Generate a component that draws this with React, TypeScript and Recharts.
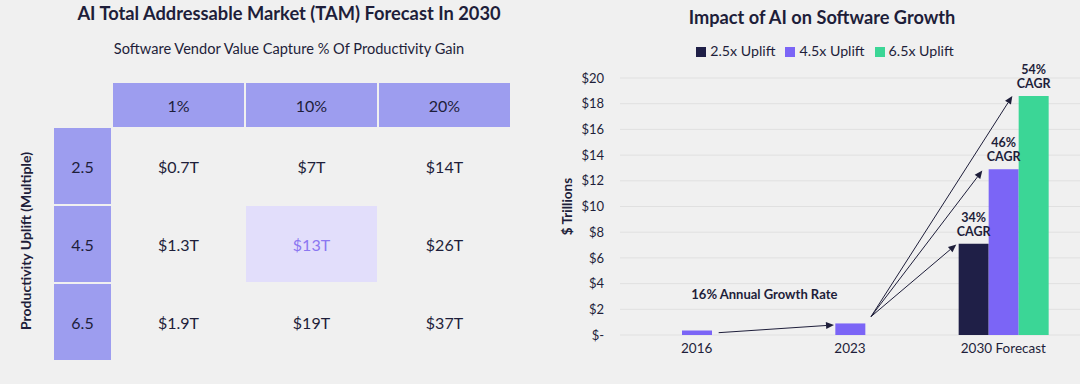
import React from "react";
import {
  Bar,
  BarChart,
  CartesianGrid,
  LabelList,
  Legend,
  ReferenceLine,
  XAxis,
  YAxis
} from "recharts";

const FONT = "Lato, 'Open Sans', sans-serif";
const INK = "#1e1e3a";
const PAGE_BG = "#f0f0f0";
const HEADER_BG = "#9d9def";
const HIGHLIGHT_BG = "#e2defb";
const HIGHLIGHT_INK = "#8b77f1";

// left table
const captureHeaders = ["1%", "10%", "20%"];
const upliftMultiples = ["2.5", "4.5", "6.5"];
const tamRows = [
  ["$0.7T", "$7T", "$14T"],
  ["$1.3T", "$13T", "$26T"],
  ["$1.9T", "$19T", "$37T"]
];
const highlighted = { row: 1, col: 1 };

// right chart
const years = ["2016", "2023", "2030 Forecast"];
const uplift25 = [null, null, 7.1];
const uplift45 = [0.35, 0.9, 12.9];
const uplift65 = [null, null, 18.6];
const cagr25 = [null, null, "34%"];
const cagr45 = [null, null, "46%"];
const cagr65 = [null, null, "54%"];
const yTicks = [0, 2, 4, 6, 8, 10, 12, 14, 16, 18, 20];

// connectors: y in $T, dx = pixel nudge from the category centre
const arrows = [
  { from: "2016", fromY: 0.18, fromDx: 22, to: "2023", toY: 0.78, toDx: -16, note: "16% Annual Growth Rate" },
  { from: "2023", fromY: 1.43, fromDx: 21, to: "2030 Forecast", toY: 7.05, toDx: -47 },
  { from: "2023", fromY: 1.43, fromDx: 21, to: "2030 Forecast", toY: 12.8, toDx: -21 },
  { from: "2023", fromY: 1.43, fromDx: 21, to: "2030 Forecast", toY: 18.6, toDx: 9 }
];

const chartData = years.map((year, i) => ({
  year,
  uplift25: uplift25[i],
  uplift45: uplift45[i],
  uplift65: uplift65[i],
  cagr25: cagr25[i],
  cagr45: cagr45[i],
  cagr65: cagr65[i]
}));

function cagrLabel(props: any) {
  const { value } = props;
  if (value === null || value === undefined || value === "") {
    return null;
  }
  const vb = props.viewBox ?? props;
  const cx = vb.x + vb.width / 2;
  const top = vb.y;

  return (
    <text
      textAnchor="middle"
      fontFamily={FONT}
      fontWeight={700}
      fontSize={12.5}
      fill={INK}
    >
      <tspan x={cx} y={top - 22}>{value}</tspan>
      <tspan x={cx} y={top - 8}>CAGR</tspan>
    </text>
  );
}

function arrowShape(a: (typeof arrows)[number]) {
  return (props: any) => {
    const x1 = props.x1 + a.fromDx;
    const y1 = props.y1;
    const x2 = props.x2 + a.toDx;
    const y2 = props.y2;
    const angle = Math.atan2(y2 - y1, x2 - x1);
    const len = 8;
    const half = 3.5;
    const bx = x2 - len * Math.cos(angle);
    const by = y2 - len * Math.sin(angle);
    const px = -Math.sin(angle) * half;
    const py = Math.cos(angle) * half;

    return (
      <g>
        <line x1={x1} y1={y1} x2={bx} y2={by} stroke={INK} strokeWidth={1} />
        <polygon
          points={`${x2},${y2} ${bx + px},${by + py} ${bx - px},${by - py}`}
          fill={INK}
        />
        {a.note ? (
          <text
            x={(x1 + x2) / 2 - 12}
            y={(y1 + y2) / 2 - 35}
            textAnchor="middle"
            dominantBaseline="central"
            fontFamily={FONT}
            fontWeight={700}
            fontSize={13}
            fill={INK}
          >
            {a.note}
          </text>
        ) : null}
      </g>
    );
  };
}

function TamTable() {
  const colLeft = 113;
  const colWidth = 131;
  const gap = 2;
  const rowTop = 128;
  const rowHeight = 76;

  return (
    <>
      <div
        style={{
          position: "absolute",
          left: 0,
          top: 2,
          width: 578,
          textAlign: "center",
          fontWeight: 700,
          fontSize: 18.3,
          lineHeight: "22px",
          color: INK
        }}
      >
        AI Total Addressable Market (TAM) Forecast In 2030
      </div>
      <div
        style={{
          position: "absolute",
          left: 0,
          top: 40,
          width: 578,
          textAlign: "center",
          fontSize: 14.6,
          lineHeight: "18px",
          color: INK
        }}
      >
        Software Vendor Value Capture % Of Productivity Gain
      </div>

      {captureHeaders.map((h, c) => (
        <div
          key={`h-${h}`}
          style={{
            position: "absolute",
            left: colLeft + c * (colWidth + gap),
            top: 83,
            width: colWidth,
            height: 44,
            background: HEADER_BG,
            display: "flex",
            alignItems: "center",
            justifyContent: "center",
            fontSize: 16,
            color: INK
          }}
        >
          {h}
        </div>
      ))}

      {upliftMultiples.map((m, r) => (
        <div
          key={`r-${m}`}
          style={{
            position: "absolute",
            left: 54,
            top: rowTop + r * (rowHeight + gap),
            width: 57,
            height: rowHeight,
            background: HEADER_BG,
            display: "flex",
            alignItems: "center",
            justifyContent: "center",
            fontSize: 16,
            color: INK
          }}
        >
          {m}
        </div>
      ))}

      {tamRows.map((row, r) =>
        row.map((v, c) => {
          const isHot = r === highlighted.row && c === highlighted.col;
          return (
            <div
              key={`c-${r}-${c}`}
              style={{
                position: "absolute",
                left: colLeft + c * (colWidth + gap),
                top: rowTop + r * (rowHeight + gap),
                width: colWidth,
                height: rowHeight,
                background: isHot ? HIGHLIGHT_BG : "transparent",
                display: "flex",
                alignItems: "center",
                justifyContent: "center",
                fontSize: 16,
                color: isHot ? HIGHLIGHT_INK : INK
              }}
            >
              {v}
            </div>
          );
        })
      )}

      <div
        style={{
          position: "absolute",
          left: 26 - 150,
          top: 241 - 10,
          width: 300,
          height: 20,
          lineHeight: "20px",
          textAlign: "center",
          transform: "rotate(-90deg)",
          fontWeight: 700,
          fontSize: 14,
          color: INK
        }}
      >
        Productivity Uplift (Multiple)
      </div>
    </>
  );
}

export default function App() {
  return (
    <div
      style={{
        position: "fixed",
        left: 0,
        top: 0,
        width: 1080,
        height: 384,
        background: PAGE_BG,
        fontFamily: FONT,
        overflow: "hidden"
      }}
    >
      <TamTable />

      <div
        style={{
          position: "absolute",
          left: 562,
          top: 6,
          width: 520,
          textAlign: "center",
          fontWeight: 700,
          fontSize: 18.2,
          lineHeight: "22px",
          color: INK
        }}
      >
        Impact of AI on Software Growth
      </div>

      <div style={{ position: "absolute", left: 540, top: 0 }}>
        <BarChart
          width={540}
          height={384}
          data={chartData}
          margin={{ top: 78, right: 0, bottom: 19, left: 0 }}
          barSize={30}
          barGap={0}
        >
          <CartesianGrid vertical={false} stroke="#e0e0e0" />
          <XAxis
            dataKey="year"
            axisLine={false}
            tickLine={false}
            tick={{ fontSize: 13.5, fill: INK, fontFamily: FONT }}
          />
          <YAxis
            width={80}
            domain={[0, 20]}
            ticks={yTicks}
            axisLine={false}
            tickLine={false}
            tickMargin={10}
            tick={{ fontSize: 13, fill: INK, fontFamily: FONT }}
            tickFormatter={(v) => (Number(v) === 0 ? "$-" : `$${v}`)}
            label={{
              value: "$ Trillions",
              angle: -90,
              position: "insideLeft",
              offset: 27,
              style: { textAnchor: "middle", fontWeight: 700, fontSize: 13.5, fill: INK, fontFamily: FONT }
            }}
          />
          <Legend
            layout="horizontal"
            verticalAlign="middle"
            align="center"
            iconType="square"
            iconSize={10}
            wrapperStyle={{ top: 42, left: 40, width: 500, fontSize: 14.2, fontFamily: FONT }}
            formatter={(value) => <span style={{ color: INK }}>{value}</span>}
          />
          <Bar dataKey="uplift25" name="2.5x Uplift" fill="#1f1f47" isAnimationActive={false}>
            <LabelList dataKey="cagr25" content={cagrLabel} />
          </Bar>
          <Bar dataKey="uplift45" name="4.5x Uplift" fill="#7b65f6" isAnimationActive={false}>
            <LabelList dataKey="cagr45" content={cagrLabel} />
          </Bar>
          <Bar dataKey="uplift65" name="6.5x Uplift" fill="#3bd696" isAnimationActive={false}>
            <LabelList dataKey="cagr65" content={cagrLabel} />
          </Bar>
          {arrows.map((a, i) => (
            <ReferenceLine
              key={`arrow-${i}`}
              segment={[
                { x: a.from, y: a.fromY },
                { x: a.to, y: a.toY }
              ]}
              shape={arrowShape(a)}
            />
          ))}
        </BarChart>
      </div>
    </div>
  );
}
